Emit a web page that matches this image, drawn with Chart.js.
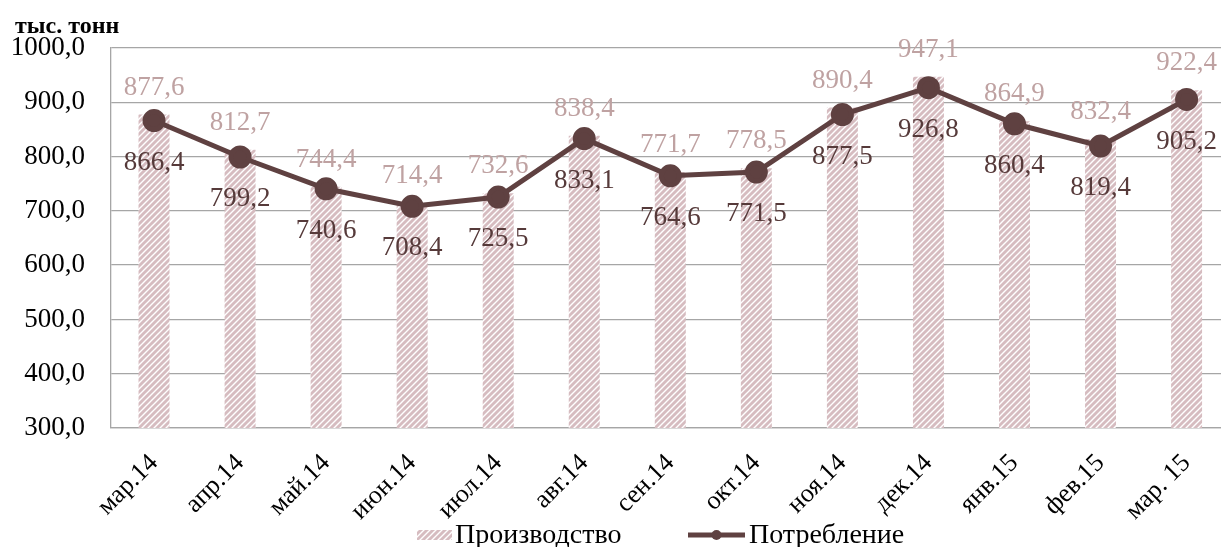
<!DOCTYPE html>
<html>
<head>
<meta charset="utf-8">
<script src="https://cdn.jsdelivr.net/npm/chart.js@4"></script>
<style>
  html, body { margin: 0; padding: 0; background: #fff; overflow: hidden; }
  canvas { display: block; }
</style>
</head>
<body>
<canvas id="chartProd" width="1221" height="547"></canvas>
<script>
// ── Data ──
const meses = ['мар.14', 'апр.14', 'май.14', 'июн.14', 'июл.14', 'авг.14', 'сен.14', 'окт.14', 'ноя.14', 'дек.14', 'янв.15', 'фев.15', 'мар. 15'];
const produccion = [877.6, 812.7, 744.4, 714.4, 732.6, 838.4, 771.7, 778.5, 890.4, 947.1, 864.9, 832.4, 922.4];
const consumo = [866.4, 799.2, 740.6, 708.4, 725.5, 833.1, 764.6, 771.5, 877.5, 926.8, 860.4, 819.4, 905.2];
const yTicks = [300, 400, 500, 600, 700, 800, 900, 1000];

const FONT = "'Liberation Serif', 'DejaVu Serif', serif";
const COL_LINE = '#5f4141';
const COL_BAR_LBL = '#bfa2a2';
const COL_LINE_LBL = '#563a3a';

const fmt = v => v.toFixed(1).replace('.', ',');
// months on a numeric axis so the plot can run past the right edge, like the source
const pts = arr => arr.map((v, i) => ({ x: i, y: v }));
const X_MIN = -0.5, X_MAX = 12.4;

// hatch pattern for bars
function makeHatch() {
  const c = document.createElement('canvas');
  c.width = 6; c.height = 6;
  const x = c.getContext('2d');
  x.fillStyle = '#d6bcc0';
  x.fillRect(0, 0, 6, 6);
  x.strokeStyle = '#ffffff';
  x.lineWidth = 1.4;
  x.beginPath();
  x.moveTo(-1, 7); x.lineTo(7, -1);
  x.moveTo(-1, 1); x.lineTo(1, -1);
  x.moveTo(5, 7); x.lineTo(7, 5);
  x.stroke();
  return x.createPattern(c, 'repeat');
}
const hatch = makeHatch();

// plot area runs to the canvas edge (the rotated last label made Chart.js keep room on the right)
const stretch = {
  id: 'stretch',
  afterLayout(chart) {
    const x = chart.scales.x;
    const ca = chart.chartArea;
    ca.right = chart.width;
    ca.width = ca.right - ca.left;
    x.right = chart.width;
    x.width = x.right - x.left;
    x.configure();
  }
};

// ── data labels + unit + legend ──
const extras = {
  id: 'extras',
  afterDatasetsDraw(chart) {
    const ctx = chart.ctx;
    ctx.save();
    ctx.textAlign = 'center';
    ctx.textBaseline = 'middle';
    ctx.font = '27px ' + FONT;
    chart.getDatasetMeta(0).data.forEach((el, i) => {
      ctx.fillStyle = COL_BAR_LBL;
      ctx.fillText(fmt(produccion[i]), el.x, el.y - 27);
    });
    chart.getDatasetMeta(1).data.forEach((el, i) => {
      ctx.fillStyle = COL_LINE_LBL;
      ctx.fillText(fmt(consumo[i]), el.x, el.y + 42);
    });

    // unidad
    ctx.textAlign = 'left';
    ctx.fillStyle = '#000';
    ctx.font = 'bold 24px ' + FONT;
    ctx.fillText('тыс. тонн', 15, 27);

    // leyenda
    const ly = 535;
    ctx.fillStyle = hatch;
    ctx.fillRect(417, ly - 5, 35, 10);
    ctx.fillStyle = '#000';
    ctx.font = '28px ' + FONT;
    ctx.fillText('Производство', 455, ly + 1);
    ctx.strokeStyle = COL_LINE;
    ctx.lineWidth = 5;
    ctx.beginPath();
    ctx.moveTo(688, ly); ctx.lineTo(745, ly);
    ctx.stroke();
    ctx.fillStyle = COL_LINE;
    ctx.beginPath();
    ctx.arc(716.5, ly, 5, 0, Math.PI * 2);
    ctx.fill();
    ctx.fillStyle = '#000';
    ctx.fillText('Потребление', 749, ly + 1);
    ctx.restore();
  }
};

new Chart(document.getElementById('chartProd'), {
  data: {
    datasets: [
      { type: 'bar', label: 'Производство', data: pts(produccion), backgroundColor: hatch,
        barPercentage: 0.36, categoryPercentage: 1, order: 2 },
      { type: 'line', label: 'Потребление', data: pts(consumo), borderColor: COL_LINE, backgroundColor: COL_LINE,
        borderWidth: 5, pointRadius: 9, pointHoverRadius: 9, tension: 0, order: 1 }
    ]
  },
  options: {
    responsive: false, animation: false,
    layout: { padding: { top: 48, left: 0, right: 0, bottom: 0 } },
    plugins: { legend: { display: false }, tooltip: { enabled: false } },
    scales: {
      x: {
        type: 'linear', min: X_MIN, max: X_MAX, offset: false, bounds: 'data',
        grid: { display: false },
        border: { color: '#a6a6a6', width: 1.3 },
        afterBuildTicks: s => {
          s.ticks = meses.map((m, i) => ({ value: i }));
          s.min = X_MIN; s.max = X_MAX;
        },
        ticks: { color: '#000', font: { family: FONT, size: 26 }, minRotation: 45, maxRotation: 45, padding: 12,
          autoSkip: false, callback: v => meses[v] },
        afterFit: s => { s.height = 119; s.paddingLeft = 0; s.paddingRight = 0; }
      },
      y: {
        min: 300, max: 1000,
        grid: { color: '#a6a6a6', lineWidth: 1.3, drawTicks: false },
        border: { color: '#a6a6a6', width: 1.3 },
        afterBuildTicks: s => { s.ticks = yTicks.map(v => ({ value: v })); },
        ticks: { color: '#000', font: { family: FONT, size: 27 }, padding: 26, callback: v => fmt(v) },
        afterFit: s => { s.width = 111; }
      }
    }
  },
  plugins: [stretch, extras]
});
</script>
</body>
</html>
